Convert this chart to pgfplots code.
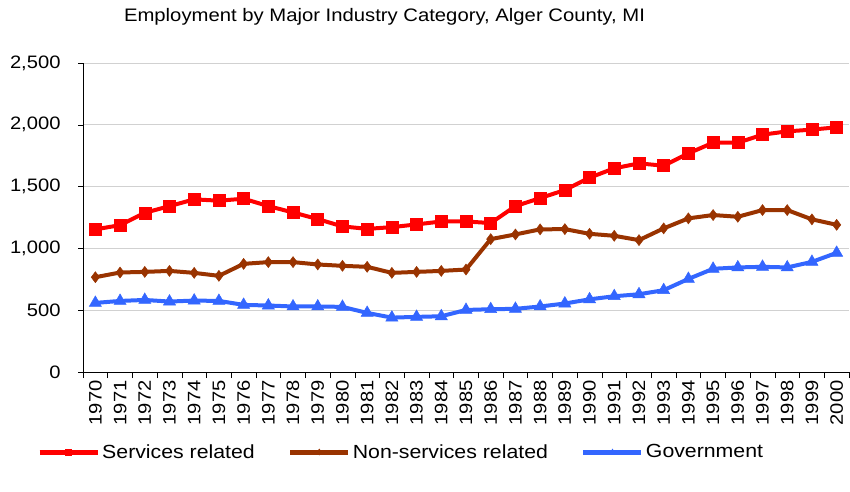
\documentclass[border=0pt]{standalone}
\usepackage{fontspec}
\setmainfont{Liberation Sans}[FakeStretch=1.12]
\usepackage{pgfplots}
\pgfplotsset{compat=1.18}
\definecolor{servred}{HTML}{FF0000}
\definecolor{nonserv}{HTML}{993300}
\definecolor{govblue}{HTML}{3366FF}

\pgfplotstableread{
year serv nonserv gov
1970 1154 767 559
1971 1188 805 575
1972 1288 810 583
1973 1342 818 570
1974 1397 802 578
1975 1386 778 575
1976 1402 875 543
1977 1342 889 538
1978 1291 889 530
1979 1237 870 530
1980 1178 859 527
1981 1158 851 478
1982 1172 802 440
1983 1194 810 446
1984 1218 818 451
1985 1218 829 502
1986 1205 1075 508
1987 1342 1113 511
1988 1407 1154 530
1989 1472 1156 554
1990 1572 1118 588
1991 1648 1102 613
1992 1688 1067 629
1993 1669 1162 662
1994 1769 1243 753
1995 1855 1270 835
1996 1855 1256 846
1997 1920 1310 851
1998 1947 1310 846
1999 1961 1235 891
2000 1980 1191 964
}\datatable

\begin{document}
\begin{tikzpicture}[font=\fontsize{18}{21}\selectfont]
\path[use as bounding box] (-83pt,-119pt) rectangle (767pt,372pt);
\begin{axis}[
  at={(0pt,0pt)}, anchor=south west,
  scale only axis, width=766pt, height=309pt,
  xmin=1969.5, xmax=2000.5,
  ymin=0, ymax=2500,
  axis x line=bottom, axis y line=left,
  axis line style={-, black, line width=0.8pt},
  xtick={1970,...,2000},
  minor xtick={1969.5,1970.5,...,2000.5},
  major x tick style={draw=none},
  minor x tick style={black, line width=0.6pt},
  minor tick length=6pt,
  ytick={0,500,...,2500},
  major tick length=5pt,
  y tick style={black, line width=0.6pt},
  tick align=outside,
  ymajorgrids,
  major grid style={line width=0.9pt, color=black!18},
  xticklabel style={rotate=90, anchor=east, /pgf/number format/1000 sep={}},
  yticklabel style={/pgf/number format/1000 sep={,}, xshift=-14pt},
  /pgf/number format/assume math mode=true,
  clip=false,
  legend columns=3,
  legend style={draw=none, fill=none, at={(-0.060,-0.259)}, anchor=west,
    inner sep=0pt,
    /tikz/every odd column/.append style={column sep=0pt},
    /tikz/every even column/.append style={column sep=31pt},
    font=\fontsize{19}{22}\selectfont},
  legend cell align=left,
  legend image code/.code={%
    \draw[#1, mark=none, line width=5pt] (0pt,0pt) -- (58pt,0pt);
    \draw[#1, mark size=3pt] plot coordinates {(29pt,0pt)};},
]
\addplot[servred, line width=4pt, mark=square*, mark size=6pt, mark options={solid, line width=0.5pt}] table[x=year, y=serv] {\datatable};
\addplot[nonserv, line width=4pt, mark=diamond*, mark size=5.5pt, mark options={solid, line width=0.5pt}] table[x=year, y=nonserv] {\datatable};
\addplot[govblue, line width=4pt, mark=triangle*, mark size=7pt, mark options={solid, line width=0.5pt}] table[x=year, y=gov] {\datatable};
\addlegendentry{Services related}
\addlegendentry{Non-services related}
\addlegendentry{Government}
\end{axis}
\node[anchor=center] at (301.5pt,355pt) {\fontsize{18.1}{21}\selectfont Employment by Major Industry Category, Alger County, MI};
\end{tikzpicture}
\end{document}
